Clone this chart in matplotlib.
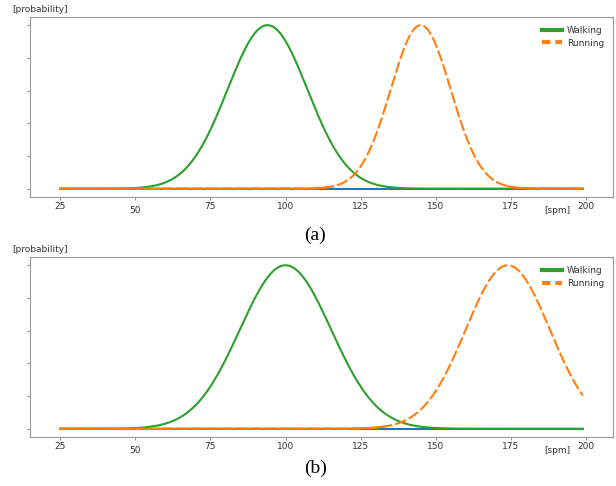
import numpy as np
import matplotlib
matplotlib.use("Agg")
import matplotlib.pyplot as plt

# class models: (mean, std) in steps per minute
panel_labels = ["(a)", "(b)"]
walk_mean = [94, 100]
walk_std = [13.3, 15.2]
run_mean = [145, 174]
run_std = [10.0, 14.0]

x_start, x_end = 25, 199
x_ticks = [25, 50, 75, 100, 125, 150, 175, 200]
y_ticks = [0, 0.2, 0.4, 0.6, 0.8, 1.0]

GREEN = "#2ca02c"
ORANGE = "#ff7f0e"
BLUE = "#1f77b4"
GRAY = "#999999"

fig = plt.figure(figsize=(6.16, 4.86), dpi=100)
boxes = [[0.049, 0.595, 0.946, 0.370], [0.049, 0.101, 0.946, 0.370]]
caption_y = [0.515, 0.037]

x = np.linspace(x_start, x_end, 800)

for i in range(2):
    ax = fig.add_axes(boxes[i])
    walk = np.exp(-0.5 * ((x - walk_mean[i]) / walk_std[i]) ** 2)
    run = np.exp(-0.5 * ((x - run_mean[i]) / run_std[i]) ** 2)

    ax.plot(x, np.zeros_like(x), color=BLUE, lw=1.5)
    ax.plot(x, walk, color=GREEN, lw=1.5, label="Walking")
    ax.plot(x, run, color=ORANGE, lw=1.5, ls=(0, (5.5, 1.5)), label="Running")
    # tails of the running curve look solid in the original
    tail = np.where(run < 0.015, run, np.nan)
    ax.plot(x, tail, color=ORANGE, lw=1.5)

    ax.set_xlim(15, 209)
    ax.set_xticks(x_ticks)
    ax.set_xticklabels([str(t) for t in x_ticks])
    ax.set_yticks(y_ticks)
    ax.set_yticklabels([])
    ax.tick_params(axis="x", labelsize=6.5, labelcolor="#333333", length=2,
                   color=GRAY, pad=1.5)
    ax.tick_params(axis="y", length=2, color=GRAY)
    # the "50" label sits a bit lower in the original
    ax.get_xticklabels()[1].set_y(-0.025)
    for sp in ax.spines.values():
        sp.set_color(GRAY)
        sp.set_linewidth(0.8)

    ax.text(0.904, -0.075, "[spm]", transform=ax.transAxes, fontsize=6.5,
            color="#333333", ha="center", va="center")
    ax.text(0.017, 1.04, "[probability]", transform=ax.transAxes, fontsize=6.5,
            color="#333333", ha="center", va="center")

    leg = ax.legend(loc="upper right", frameon=False, fontsize=6.5,
                    handlelength=2.2, handletextpad=0.5, borderaxespad=0.6,
                    labelspacing=0.4)
    for h in leg.get_lines():
        h.set_linewidth(3)
    leg.get_lines()[1].set_linestyle((0, (2.0, 1.2)))
    for t in leg.get_texts():
        t.set_color("#333333")

    fig.text(0.512, caption_y[i], panel_labels[i], fontsize=14,
             family="Liberation Serif", ha="center", va="center")

fig.savefig("out.png", dpi=100)
